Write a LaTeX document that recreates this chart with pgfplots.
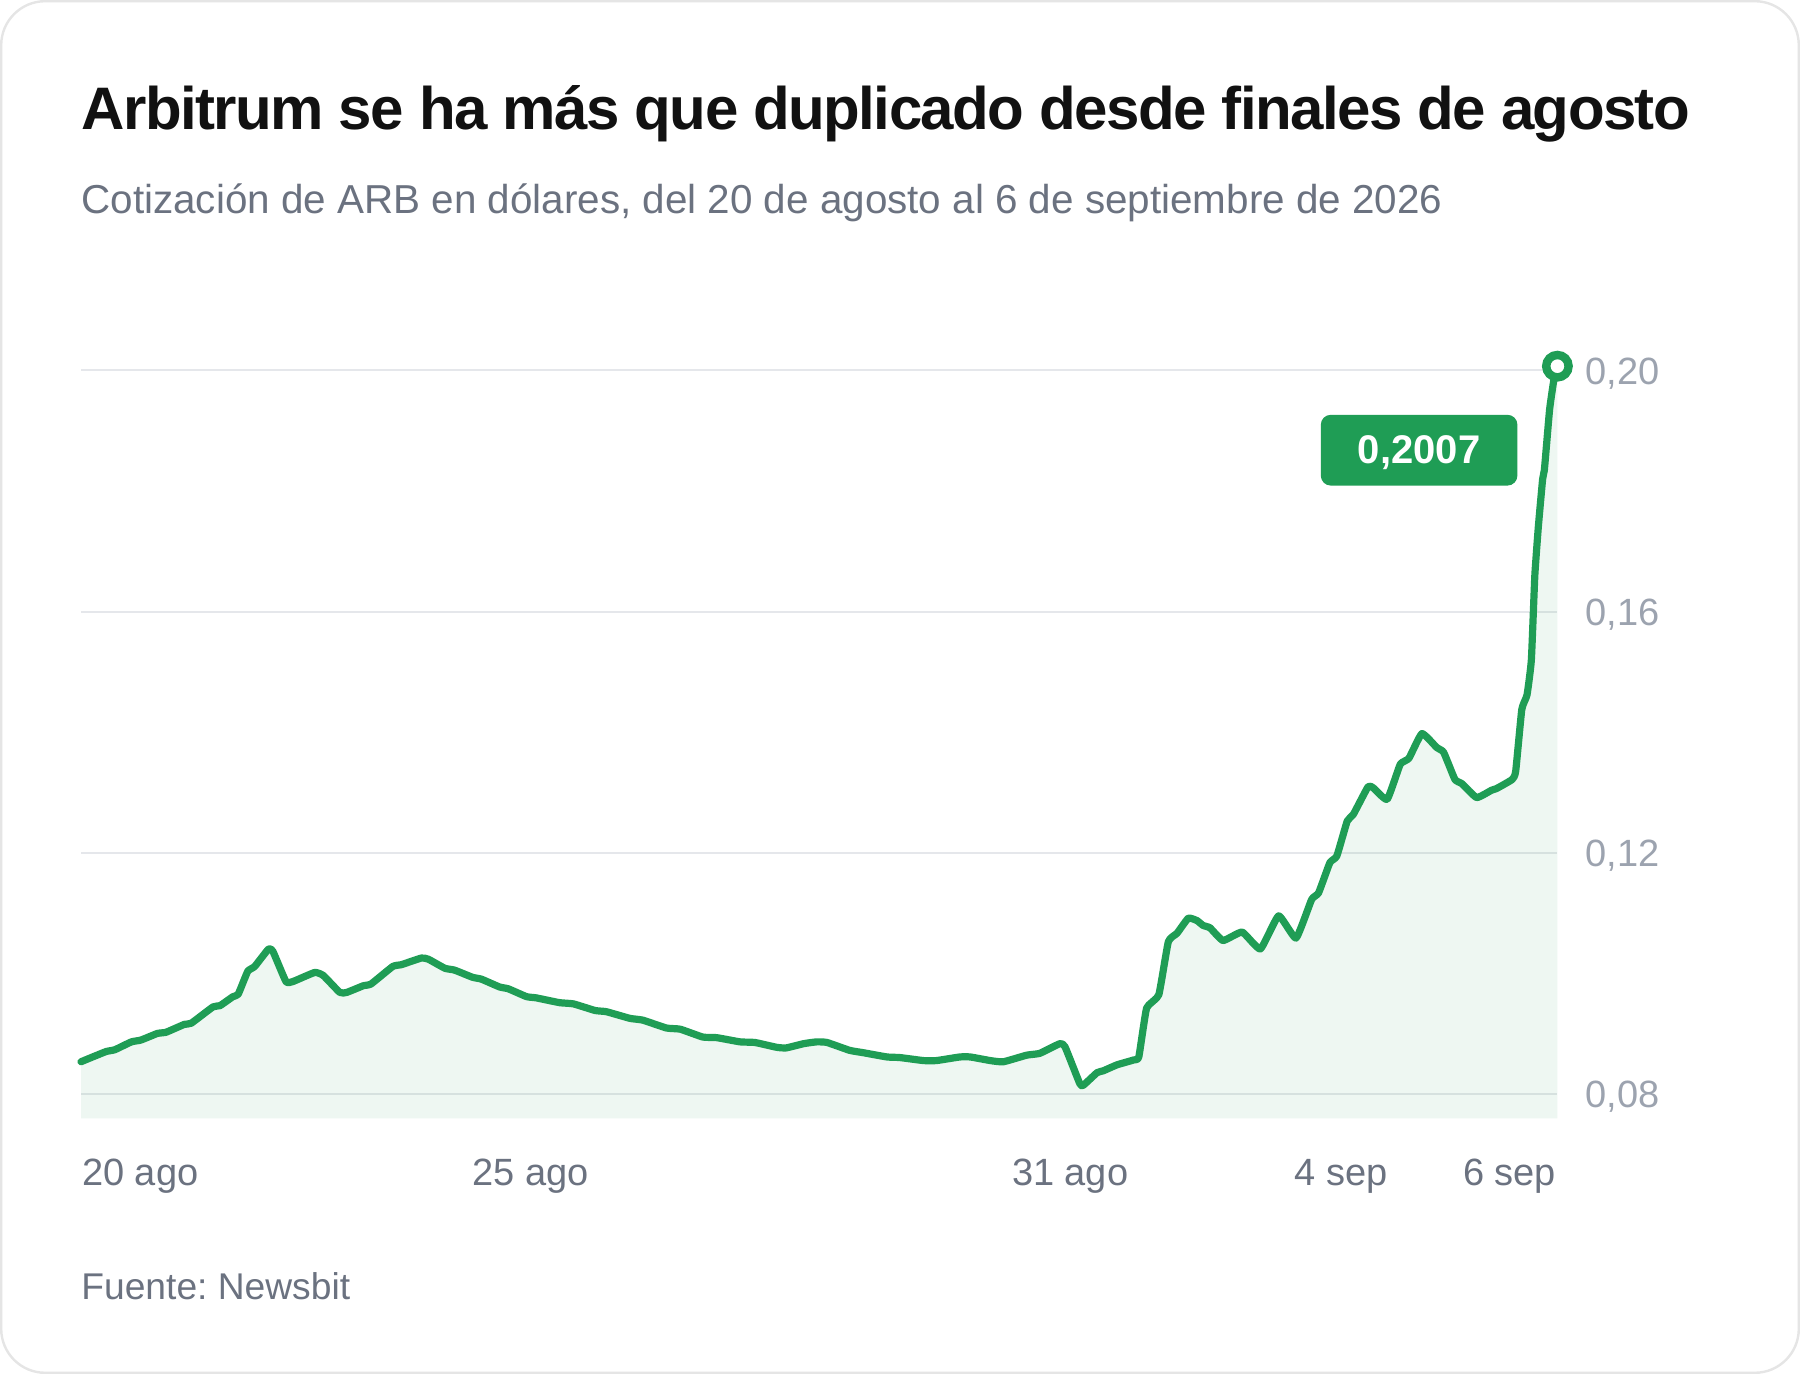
\documentclass[border=0pt]{standalone}
\usepackage{pgfplots}
\pgfplotsset{compat=1.18}
\usepackage{pgfplotstable}
\usepackage{fontspec}
\setmainfont{Liberation Sans}
\newfontfamily\titlefont[LetterSpace=-2.6]{Liberation Sans}
\frenchspacing

\definecolor{arbgreen}{RGB}{31,157,85}
\definecolor{gridgray}{RGB}{229,231,235}
\definecolor{labelgray}{RGB}{107,114,128}
\definecolor{tickgray}{RGB}{156,163,175}
\definecolor{titleblack}{RGB}{17,17,17}
\definecolor{cardline}{RGB}{229,229,229}

% ARB price (USD), x in days since 20 Aug
\pgfplotstableread{
day price
0.00 0.0854
0.10 0.0860
0.29 0.0871
0.39 0.0874
0.58 0.0887
0.69 0.0890
0.88 0.0901
0.98 0.0903
1.19 0.0916
1.27 0.0918
1.52 0.0945
1.60 0.0947
1.75 0.0962
1.81 0.0966
1.92 0.1004
2.00 0.1012
2.16 0.1041
2.21 0.1037
2.36 0.0987
2.44 0.0987
2.69 0.1002
2.79 0.0997
2.98 0.0969
3.06 0.0969
3.25 0.0980
3.34 0.0983
3.59 0.1012
3.69 0.1015
3.92 0.1026
4.00 0.1024
4.19 0.1009
4.30 0.1006
4.51 0.0994
4.61 0.0991
4.82 0.0978
4.92 0.0975
5.13 0.0962
5.24 0.0960
5.51 0.0952
5.67 0.0950
5.92 0.0939
6.05 0.0937
6.32 0.0926
6.47 0.0923
6.74 0.0910
6.90 0.0908
7.16 0.0895
7.32 0.0894
7.59 0.0887
7.76 0.0886
8.01 0.0878
8.12 0.0877
8.32 0.0884
8.47 0.0887
8.59 0.0886
8.85 0.0873
9.01 0.0869
9.28 0.0862
9.43 0.0861
9.70 0.0856
9.85 0.0856
10.12 0.0862
10.24 0.0862
10.47 0.0856
10.62 0.0854
10.89 0.0865
11.04 0.0868
11.27 0.0884
11.33 0.0879
11.50 0.0818
11.54 0.0815
11.70 0.0836
11.77 0.0839
11.93 0.0849
12.12 0.0857
12.18 0.0862
12.27 0.0943
12.41 0.0965
12.52 0.1053
12.62 0.1067
12.75 0.1092
12.85 0.1088
12.92 0.1080
13.00 0.1076
13.15 0.1055
13.37 0.1069
13.58 0.1041
13.79 0.1096
13.99 0.1059
14.17 0.1123
14.25 0.1134
14.38 0.1184
14.46 0.1195
14.58 0.1253
14.65 0.1264
14.82 0.1310
14.88 0.1308
15.04 0.1289
15.19 0.1347
15.29 0.1357
15.44 0.1398
15.61 0.1375
15.69 0.1367
15.82 0.1322
15.90 0.1315
16.07 0.1292
16.24 0.1304
16.30 0.1307
16.48 0.1322
16.52 0.1336
16.59 0.1438
16.65 0.1462
16.70 0.1520
16.74 0.1660
16.78 0.1740
16.83 0.1820
16.85 0.1835
16.91 0.1935
16.96 0.1985
17.00 0.2007
}\arbdata

\begin{document}
\begin{tikzpicture}
\useasboundingbox (0,0) rectangle (900bp,687bp);
\draw[cardline, line width=1.2bp, rounded corners=22bp, fill=white]
  (0.6bp,0.6bp) rectangle (899.4bp,686.4bp);

\node[anchor=base west, inner sep=0pt, text=titleblack,
  font=\titlefont\bfseries\fontsize{30bp}{36bp}\selectfont]
  at (40.5bp,622bp) {Arbitrum se ha más que duplicado desde finales de agosto};
\node[anchor=base west, inner sep=0pt, text=labelgray,
  font=\fontsize{20.2bp}{24bp}\selectfont]
  at (40.5bp,580bp) {Cotización de ARB en dólares, del 20 de agosto al 6 de septiembre de 2026};
\node[anchor=base west, inner sep=0pt, text=labelgray,
  font=\fontsize{18.6bp}{22bp}\selectfont]
  at (40.5bp,37.5bp) {Fuente: Newsbit};

\begin{axis}[
  at={(40.5bp,127.75bp)}, anchor=south west,
  scale only axis, width=738.2bp, height=376.15bp,
  xmin=0, xmax=17, ymin=0.076, ymax=0.2007,
  clip=false,
  axis line style={draw=none},
  major tick length=0pt,
  tick style={draw=none},
  xtick={0.683,5.18,11.39,14.51,16.45},
  xticklabels={20 ago,25 ago,31 ago,4 sep,6 sep},
  ytick={0.08,0.12,0.16,0.20},
  yticklabels={{0,08},{0,12},{0,16},{0,20}},
  yticklabel pos=right,
  ymajorgrids,
  major grid style={gridgray, line width=1bp},
  xticklabel style={anchor=base, inner sep=0pt, yshift=-33.75bp,
    text=labelgray, font=\fontsize{19bp}{22bp}\selectfont},
  yticklabel style={anchor=base west, inner sep=0pt, xshift=13.8bp, yshift=-6.8bp,
    text=tickgray, font=\fontsize{19bp}{22bp}\selectfont},
  /pgf/number format/assume math mode=true,
]
\addplot[draw=none, fill=arbgreen, fill opacity=0.075]
  table[x=day, y=price] {\arbdata} |- (axis cs:0,0.076) -- cycle;
\addplot[arbgreen, line width=3.6bp, line join=round, line cap=round, mark=none,
  smooth, tension=0.25]
  table[x=day, y=price] {\arbdata};
\addplot[only marks, mark=*, mark size=5.6bp,
  mark options={draw=arbgreen, fill=white, line width=4.2bp}]
  coordinates {(17,0.2007)};
\node[fill=arbgreen, text=white, rounded corners=5bp,
  minimum width=98.3bp, minimum height=35.4bp,
  text height=13.7bp, text depth=0pt, inner sep=0pt,
  font=\bfseries\fontsize{20bp}{24bp}\selectfont,
  xshift=-69.15bp, yshift=-42bp]
  at (axis cs:17,0.2007) {0,2007};
\end{axis}
\end{tikzpicture}
\end{document}
